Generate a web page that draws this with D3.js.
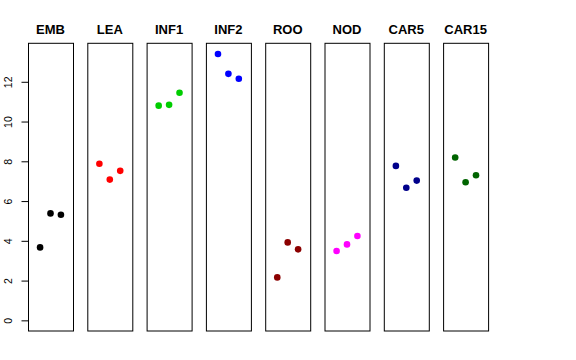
<!DOCTYPE html>
<html>
<head>
<meta charset="utf-8">
<script src="https://cdn.jsdelivr.net/npm/d3@7"></script>
<style>
  body { margin: 0; background: #fff; }
</style>
</head>
<body>
<div id="chart"></div>
<script>
// tissue groups, one panel each, three replicates per panel
const groups = ["EMB", "LEA", "INF1", "INF2", "ROO", "NOD", "CAR5", "CAR15"];
const groupColors = ["#000000", "#ff0000", "#00cd00", "#0000ff", "#8b0000", "#ff00ff", "#00008b", "#006400"];
const rep1 = [3.67, 7.88, 10.80, 13.40, 2.16, 3.49, 7.77, 8.19];
const rep2 = [5.38, 7.08, 10.84, 12.40, 3.92, 3.82, 6.67, 6.95];
const rep3 = [5.31, 7.52, 11.45, 12.15, 3.57, 4.24, 7.03, 7.30];
const yTicks = [0, 2, 4, 6, 8, 10, 12];

const width = 576, height = 360;
const panelTop = 43.3, panelBottom = 331;
const panelW = 45, firstLeft = 28, step = 59.3;

const svg = d3.select("#chart").append("svg")
    .attr("width", width)
    .attr("height", height)
    .attr("viewBox", [0, 0, width, height])
    .attr("font-family", "'Liberation Sans', Arial, sans-serif");

// R-style 4% padding around [0, max]
const yMax = d3.max([...rep1, ...rep2, ...rep3]);
const pad = yMax * 0.04;
const y = d3.scaleLinear()
    .domain([-pad, yMax + pad])
    .range([panelBottom, panelTop]);

// x within a panel: replicate 1..3 on [0,4] padded 4%
const x = d3.scaleLinear()
    .domain([-0.16, 4.16])
    .range([0, panelW]);

const data = groups.map((g, i) => ({
  name: g,
  color: groupColors[i],
  values: [rep1[i], rep2[i], rep3[i]]
}));

const panels = svg.selectAll("g.panel")
  .data(data)
  .join("g")
    .attr("class", "panel")
    .attr("transform", (_, i) => `translate(${firstLeft + i * step},0)`);

panels.append("rect")
    .attr("x", 0.5)
    .attr("y", panelTop)
    .attr("width", panelW)
    .attr("height", panelBottom - panelTop)
    .attr("fill", "none")
    .attr("stroke", "#000")
    .attr("stroke-width", 1);

panels.append("text")
    .attr("x", panelW / 2)
    .attr("y", 34)
    .attr("text-anchor", "middle")
    .attr("font-weight", "bold")
    .attr("font-size", 13)
    .text(d => d.name);

panels.selectAll("circle")
  .data(d => d.values.map((v, j) => ({v, j, color: d.color})))
  .join("circle")
    .attr("cx", d => x(d.j + 1))
    .attr("cy", d => y(d.v))
    .attr("r", 3.3)
    .attr("fill", d => d.color);

// left axis on the first panel
const axis = svg.append("g")
    .attr("transform", `translate(${firstLeft + 0.5},0)`)
    .call(d3.axisLeft(y).tickValues(yTicks).tickSize(7).tickPadding(9))
    .attr("font-size", 10.5)
    .attr("font-family", "'Liberation Sans', Arial, sans-serif");
axis.select(".domain").remove();
axis.selectAll(".tick line").attr("stroke", "#000");
axis.selectAll(".tick text")
    .attr("fill", "#000")
    .attr("text-anchor", "middle")
    .attr("transform", "rotate(-90)")
    .attr("x", 0)
    .attr("y", -20)
    .attr("dy", "0.35em");
</script>
</body>
</html>
